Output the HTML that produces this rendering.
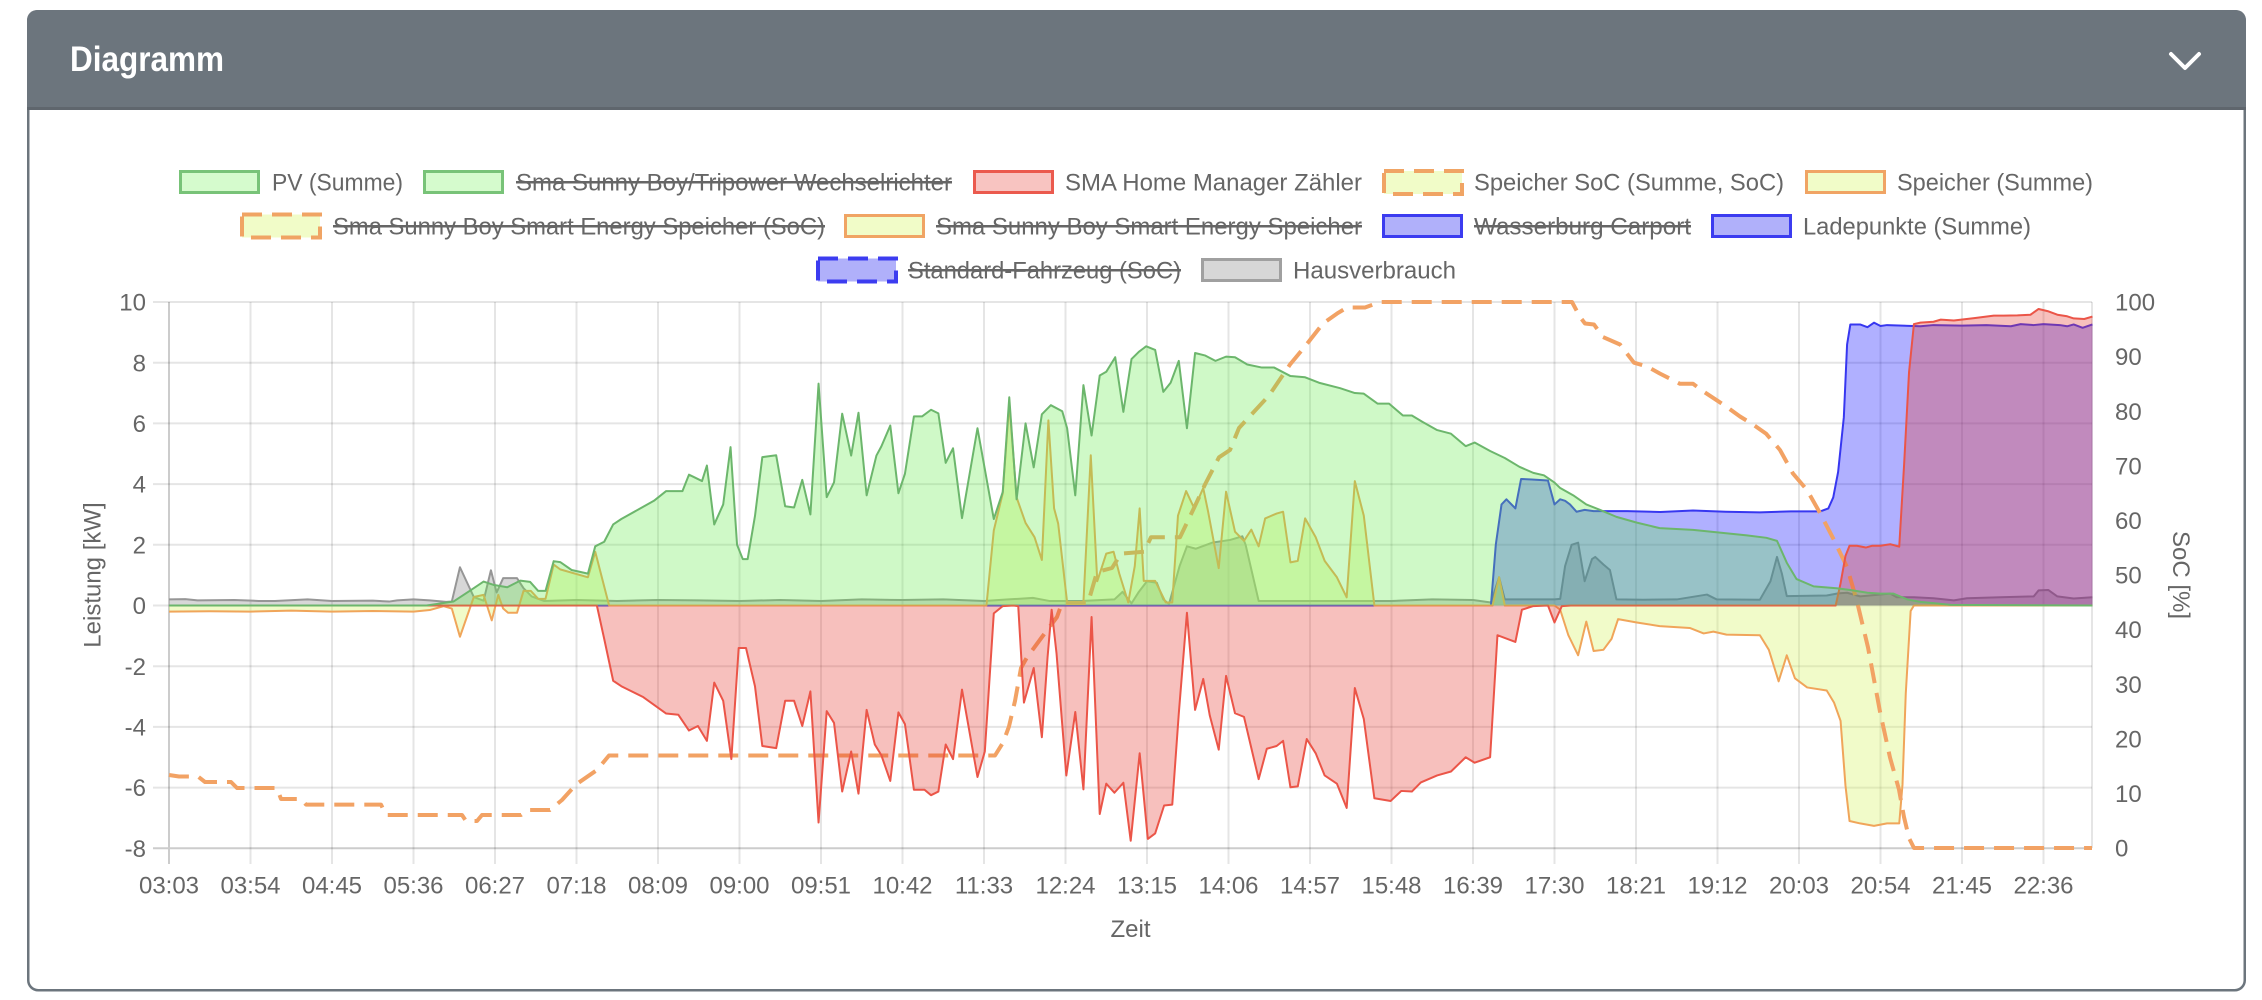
<!DOCTYPE html>
<html><head><meta charset="utf-8"><style>
html,body{margin:0;padding:0;background:#fff;width:2262px;height:1000px;overflow:hidden}
svg{display:block}
text{font-family:"Liberation Sans",Arial,Helvetica,sans-serif}
</style></head><body>
<svg width="2262" height="1000" viewBox="0 0 2262 1000" xmlns="http://www.w3.org/2000/svg">
<rect x="0" y="0" width="2262" height="1000" fill="#fff"/>
<!-- card -->
<rect x="28.25" y="11.25" width="2216.5" height="979" rx="10" ry="10" fill="#fff" stroke="#6c757d" stroke-width="2.5"/>
<path d="M27,108 L27,20 A10,10 0 0 1 37,10 L2236,10 A10,10 0 0 1 2246,20 L2246,108 Z" fill="#6c757d"/>
<rect x="27" y="107" width="2219" height="3" fill="#5f666d"/>
<text x="70" y="71" font-size="35" font-weight="bold" fill="#fff" textLength="154" lengthAdjust="spacingAndGlyphs">Diagramm</text>
<polyline points="2171,54 2185,68 2199,54" fill="none" stroke="#fff" stroke-width="4" stroke-linecap="round" stroke-linejoin="round"/>

<!-- legend -->
<g font-size="24" fill="#666">
<!-- row 1 -->
<rect x="180.5" y="171.5" width="78" height="21" fill="#d5fbcd" stroke="#78c378" stroke-width="3"/>
<text x="272" y="190.5" textLength="131" lengthAdjust="spacingAndGlyphs">PV (Summe)</text>
<rect x="424.5" y="171.5" width="78" height="21" fill="#d5fbcd" stroke="#78c378" stroke-width="3"/>
<text x="516" y="190.5" textLength="436" lengthAdjust="spacingAndGlyphs">Sma Sunny Boy/Tripower Wechselrichter</text>
<rect x="516" y="181" width="436" height="2.5" fill="#666"/>
<rect x="974.5" y="171.5" width="78" height="21" fill="#f8c4c1" stroke="#eb5a4e" stroke-width="3"/>
<text x="1065" y="190.5" textLength="297" lengthAdjust="spacingAndGlyphs">SMA Home Manager Zähler</text>
<rect x="1384" y="171" width="78" height="23" fill="#f1fcc8" stroke="#f0a464" stroke-width="4" stroke-dasharray="20 10"/>
<text x="1474" y="190.5" textLength="310" lengthAdjust="spacingAndGlyphs">Speicher SoC (Summe, SoC)</text>
<rect x="1806.5" y="171.5" width="78" height="21" fill="#f1fcc8" stroke="#f0a464" stroke-width="3"/>
<text x="1897" y="190.5" textLength="196" lengthAdjust="spacingAndGlyphs">Speicher (Summe)</text>
<!-- row 2 -->
<rect x="242" y="214.5" width="78" height="23" fill="#f1fcc8" stroke="#f0a464" stroke-width="4" stroke-dasharray="20 10"/>
<text x="333" y="234.5" textLength="492" lengthAdjust="spacingAndGlyphs">Sma Sunny Boy Smart Energy Speicher (SoC)</text>
<rect x="333" y="225" width="492" height="2.5" fill="#666"/>
<rect x="845.5" y="215.5" width="78" height="21" fill="#f1fcc8" stroke="#f0a464" stroke-width="3"/>
<text x="936" y="234.5" textLength="426" lengthAdjust="spacingAndGlyphs">Sma Sunny Boy Smart Energy Speicher</text>
<rect x="936" y="225" width="426" height="2.5" fill="#666"/>
<rect x="1383.5" y="215.5" width="78" height="21" fill="#b0b0fa" stroke="#3c3cf0" stroke-width="3"/>
<text x="1474" y="234.5" textLength="217" lengthAdjust="spacingAndGlyphs">Wasserburg Carport</text>
<rect x="1474" y="225" width="217" height="2.5" fill="#666"/>
<rect x="1712.5" y="215.5" width="78" height="21" fill="#b0b0fa" stroke="#3c3cf0" stroke-width="3"/>
<text x="1803" y="234.5" textLength="228" lengthAdjust="spacingAndGlyphs">Ladepunkte (Summe)</text>
<!-- row 3 -->
<rect x="818" y="258.5" width="78" height="23" fill="#b0b0fa" stroke="#3c3cf0" stroke-width="4" stroke-dasharray="20 10"/>
<text x="908" y="278.5" textLength="273" lengthAdjust="spacingAndGlyphs">Standard-Fahrzeug (SoC)</text>
<rect x="908" y="269" width="273" height="2.5" fill="#666"/>
<rect x="1202.5" y="259.5" width="78" height="21" fill="#d7d7d7" stroke="#a0a0a0" stroke-width="3"/>
<text x="1293" y="278.5" textLength="163" lengthAdjust="spacingAndGlyphs">Hausverbrauch</text>
</g>

<!-- grid -->
<g stroke="rgba(0,0,0,0.1)" stroke-width="2" fill="none">
<path d="M153,302H2092M153,362.7H2092M153,423.4H2092M153,484.1H2092M153,544.8H2092M153,605.5H2092M153,666.2H2092M153,726.9H2092M153,787.6H2092"/>
<path d="M250.5,302V864M332,302V864M413.5,302V864M495,302V864M576.5,302V864M658,302V864M739.5,302V864M821,302V864M902.5,302V864M984,302V864M1065.5,302V864M1147,302V864M1228.5,302V864M1310,302V864M1391.5,302V864M1473,302V864M1554.5,302V864M1636,302V864M1717.5,302V864M1799,302V864M1880.5,302V864M1962,302V864M2043.5,302V864M2092,302V848"/>
</g>
<g stroke="rgba(0,0,0,0.2)" stroke-width="2" fill="none">
<path d="M169,302V864M153,848.3H2092"/>
</g>

<!-- data -->
<g transform="translate(169 605.5) scale(81.5 -30.35)" stroke-linejoin="round">
<!-- Hausverbrauch -->
<polygon fill="rgba(140,140,140,0.35)" points="0,0 0,0.2 0.2,0.21 0.35,0.17 0.8,0.18 1.1,0.15 1.3,0.15 1.7,0.2 2.0,0.15 2.5,0.16 2.7,0.13 2.8,0.17 3.0,0.2 3.2,0.17 3.4,0.12 3.47,0.13 3.57,1.26 3.74,0.28 3.86,0.16 3.95,1.16 4.02,0.43 4.1,0.9 4.27,0.9 4.35,0.57 4.45,0.3 4.6,0.15 5,0.18 5.5,0.15 6,0.18 6.5,0.17 7,0.15 7.5,0.18 8,0.15 8.5,0.2 9,0.18 9.5,0.2 10,0.15 10.3,0.2 10.6,0.25 10.8,0.15 11.2,0.15 11.6,0.2 11.7,0.45 11.81,0.07 11.9,0.45 12.0,0.8 12.12,0.75 12.2,0.2 12.27,0.05 12.4,1.3 12.49,1.95 12.6,1.87 12.8,2.07 13.02,2.16 13.17,2.28 13.21,2.0 13.37,0.15 14,0.15 15,0.15 15.5,0.2 16,0.18 16.22,0.1 16.32,0.93 16.39,0.2 17.0,0.2 17.07,0.22 17.13,1.3 17.21,2.0 17.29,2.07 17.37,0.8 17.46,1.53 17.5,1.6 17.6,1.35 17.68,1.17 17.76,0.2 18.09,0.19 18.5,0.2 18.87,0.36 18.99,0.2 19.52,0.19 19.65,0.8 19.73,1.6 19.79,1.05 19.85,0.31 20.34,0.33 20.48,0.4 20.59,0.42 20.75,0.3 21.12,0.39 21.2,0.27 21.41,0.27 21.65,0.24 21.9,0.17 22.06,0.24 22.47,0.27 22.88,0.3 22.94,0.5 23.06,0.51 23.17,0.3 23.37,0.23 23.6,0.27 23.6,0"/>
<polyline fill="none" stroke="rgb(150,150,150)" stroke-width="2" vector-effect="non-scaling-stroke" points="0,0.2 0.2,0.21 0.35,0.17 0.8,0.18 1.1,0.15 1.3,0.15 1.7,0.2 2.0,0.15 2.5,0.16 2.7,0.13 2.8,0.17 3.0,0.2 3.2,0.17 3.4,0.12 3.47,0.13 3.57,1.26 3.74,0.28 3.86,0.16 3.95,1.16 4.02,0.43 4.1,0.9 4.27,0.9 4.35,0.57 4.45,0.3 4.6,0.15 5,0.18 5.5,0.15 6,0.18 6.5,0.17 7,0.15 7.5,0.18 8,0.15 8.5,0.2 9,0.18 9.5,0.2 10,0.15 10.3,0.2 10.6,0.25 10.8,0.15 11.2,0.15 11.6,0.2 11.7,0.45 11.81,0.07 11.9,0.45 12.0,0.8 12.12,0.75 12.2,0.2 12.27,0.05 12.4,1.3 12.49,1.95 12.6,1.87 12.8,2.07 13.02,2.16 13.17,2.28 13.21,2.0 13.37,0.15 14,0.15 15,0.15 15.5,0.2 16,0.18 16.22,0.1 16.32,0.93 16.39,0.2 17.0,0.2 17.07,0.22 17.13,1.3 17.21,2.0 17.29,2.07 17.37,0.8 17.46,1.53 17.5,1.6 17.6,1.35 17.68,1.17 17.76,0.2 18.09,0.19 18.5,0.2 18.87,0.36 18.99,0.2 19.52,0.19 19.65,0.8 19.73,1.6 19.79,1.05 19.85,0.31 20.34,0.33 20.48,0.4 20.59,0.42 20.75,0.3 21.12,0.39 21.2,0.27 21.41,0.27 21.65,0.24 21.9,0.17 22.06,0.24 22.47,0.27 22.88,0.3 22.94,0.5 23.06,0.51 23.17,0.3 23.37,0.23 23.6,0.27"/>
<!-- Ladepunkte -->
<polygon fill="rgba(0,0,255,0.31)" points="0,0 16.22,0 16.28,2.01 16.35,3.33 16.41,3.5 16.52,3.2 16.59,4.17 16.72,4.15 16.92,4.12 17.0,3.33 17.07,3.5 17.13,3.45 17.19,3.33 17.27,3.09 17.37,3.15 17.48,3.11 17.89,3.11 18.3,3.08 18.7,3.13 19.1,3.09 19.52,3.07 19.9,3.1 20.26,3.1 20.36,3.2 20.42,3.56 20.48,4.4 20.55,6.2 20.59,8.6 20.63,9.26 20.75,9.26 20.84,9.17 20.92,9.32 21.0,9.21 21.08,9.24 21.49,9.2 21.65,9.24 22.0,9.22 22.3,9.24 22.6,9.2 22.72,9.27 22.88,9.24 23.0,9.27 23.2,9.24 23.29,9.2 23.37,9.26 23.48,9.15 23.6,9.26 23.6,0"/>
<polyline fill="none" stroke="rgb(55,55,240)" stroke-width="2" vector-effect="non-scaling-stroke" points="0,0 16.22,0 16.28,2.01 16.35,3.33 16.41,3.5 16.52,3.2 16.59,4.17 16.72,4.15 16.92,4.12 17.0,3.33 17.07,3.5 17.13,3.45 17.19,3.33 17.27,3.09 17.37,3.15 17.48,3.11 17.89,3.11 18.3,3.08 18.7,3.13 19.1,3.09 19.52,3.07 19.9,3.1 20.26,3.1 20.36,3.2 20.42,3.56 20.48,4.4 20.55,6.2 20.59,8.6 20.63,9.26 20.75,9.26 20.84,9.17 20.92,9.32 21.0,9.21 21.08,9.24 21.49,9.2 21.65,9.24 22.0,9.22 22.3,9.24 22.6,9.2 22.72,9.27 22.88,9.24 23.0,9.27 23.2,9.24 23.29,9.2 23.37,9.26 23.48,9.15 23.6,9.26"/>
<!-- Speicher -->
<polygon fill="rgba(215,245,105,0.36)" points="0,0 0,-0.2 0.5,-0.19 1.0,-0.2 1.5,-0.17 2.0,-0.2 2.5,-0.18 3.0,-0.2 3.2,-0.15 3.37,-0.02 3.47,-0.1 3.57,-1.03 3.74,0.28 3.86,0.35 3.96,-0.49 4.04,0.35 4.1,-0.1 4.16,-0.24 4.27,-0.24 4.35,0.48 4.44,0.48 4.53,0.22 4.62,0.22 4.72,1.35 4.8,1.19 5.14,0.93 5.23,1.77 5.4,0 10.03,0 10.12,2.47 10.23,3.7 10.31,6.68 10.4,3.56 10.51,2.72 10.62,2.25 10.71,1.5 10.79,6.1 10.86,3.2 10.91,2.7 11.02,0.1 11.22,0.1 11.31,4.95 11.39,0.8 11.5,1.71 11.59,1.77 11.66,1.05 11.77,0.1 11.85,1.3 11.91,3.2 11.96,0.81 12.1,0.81 12.23,0.1 12.31,0.1 12.38,2.96 12.48,3.77 12.58,3.2 12.69,3.87 12.75,3.09 12.88,1.23 12.97,3.75 13.08,2.43 13.19,2.13 13.28,2.5 13.37,1.95 13.45,2.87 13.59,3.03 13.67,3.09 13.76,1.42 13.85,1.47 13.94,2.87 14.07,2.25 14.18,1.47 14.33,0.93 14.45,0.27 14.55,4.1 14.66,2.96 14.79,0 16.24,0 16.32,0.93 16.39,0 17.0,0 17.07,-0.14 17.17,-0.98 17.29,-1.64 17.39,-0.53 17.48,-1.5 17.6,-1.46 17.7,-1.1 17.78,-0.45 18.01,-0.56 18.29,-0.68 18.66,-0.74 18.83,-0.92 18.95,-0.86 19.11,-0.96 19.52,-0.98 19.63,-1.46 19.75,-2.5 19.85,-1.64 19.95,-2.4 20.1,-2.7 20.34,-2.8 20.43,-3.2 20.51,-3.8 20.57,-5.93 20.62,-7.1 20.75,-7.18 20.92,-7.26 21.08,-7.18 21.23,-7.18 21.27,-5.9 21.31,-2.9 21.37,-0.18 21.41,0 23.6,0"/>
<polyline fill="none" stroke="rgb(240,165,90)" stroke-width="2" vector-effect="non-scaling-stroke" points="0,-0.2 0.5,-0.19 1.0,-0.2 1.5,-0.17 2.0,-0.2 2.5,-0.18 3.0,-0.2 3.2,-0.15 3.37,-0.02 3.47,-0.1 3.57,-1.03 3.74,0.28 3.86,0.35 3.96,-0.49 4.04,0.35 4.1,-0.1 4.16,-0.24 4.27,-0.24 4.35,0.48 4.44,0.48 4.53,0.22 4.62,0.22 4.72,1.35 4.8,1.19 5.14,0.93 5.23,1.77 5.4,0 10.03,0 10.12,2.47 10.23,3.7 10.31,6.68 10.4,3.56 10.51,2.72 10.62,2.25 10.71,1.5 10.79,6.1 10.86,3.2 10.91,2.7 11.02,0.1 11.22,0.1 11.31,4.95 11.39,0.8 11.5,1.71 11.59,1.77 11.66,1.05 11.77,0.1 11.85,1.3 11.91,3.2 11.96,0.81 12.1,0.81 12.23,0.1 12.31,0.1 12.38,2.96 12.48,3.77 12.58,3.2 12.69,3.87 12.75,3.09 12.88,1.23 12.97,3.75 13.08,2.43 13.19,2.13 13.28,2.5 13.37,1.95 13.45,2.87 13.59,3.03 13.67,3.09 13.76,1.42 13.85,1.47 13.94,2.87 14.07,2.25 14.18,1.47 14.33,0.93 14.45,0.27 14.55,4.1 14.66,2.96 14.79,0 16.24,0 16.32,0.93 16.39,0 17.0,0 17.07,-0.14 17.17,-0.98 17.29,-1.64 17.39,-0.53 17.48,-1.5 17.6,-1.46 17.7,-1.1 17.78,-0.45 18.01,-0.56 18.29,-0.68 18.66,-0.74 18.83,-0.92 18.95,-0.86 19.11,-0.96 19.52,-0.98 19.63,-1.46 19.75,-2.5 19.85,-1.64 19.95,-2.4 20.1,-2.7 20.34,-2.8 20.43,-3.2 20.51,-3.8 20.57,-5.93 20.62,-7.1 20.75,-7.18 20.92,-7.26 21.08,-7.18 21.23,-7.18 21.27,-5.9 21.31,-2.9 21.37,-0.18 21.41,0 23.6,0"/>
</g>
<!-- Speicher SoC dashed (pixel coords) -->
<polyline fill="none" stroke="rgb(242,162,100)" stroke-width="4" stroke-dasharray="20 10" stroke-linejoin="round" points="169,775 179,776.5 198,776.5 205,782 231,782 237,788 277,788 281,799 301,799 306,804.6 381,804.6 386,815 462,815 466,821 477,821 482,815 521,815 528,810 550,810 562,800 576,784.5 597,770 609,755.5 995,755.5 1003,742.7 1009,726.4 1015,701 1021,668 1027,657.3 1042,637 1051,625 1057,617 1062,603 1088,603 1097,572 1112,568 1121,553.6 1144,551.8 1151,537.3 1180,537.3 1194,508 1205,484.5 1219,457.3 1230,450 1239,428 1269,395.5 1290,364.5 1305,346.4 1323,323.5 1337,313.6 1347,307.5 1365,307.5 1380,302 1572,302 1580,317 1585,323.5 1594,324.5 1603,337 1620,344.5 1634,362.7 1647,366.4 1660,373.6 1680,383.8 1693,383.8 1704,391.8 1726,406.4 1740,416.5 1753,424.5 1766,433.6 1780,450 1793,473.6 1807,490 1820,513 1834,540 1847,567 1857,601.5 1868,647.4 1880,711.6 1890,757.5 1899,789.6 1904,817 1909,838 1914,848 2092,848"/>
<g transform="translate(169 605.5) scale(81.5 -30.35)" stroke-linejoin="round">
<!-- SMA Home Manager -->
<polygon fill="rgba(230,60,50,0.32)" points="0,0 5.25,0 5.34,-1.1 5.45,-2.48 5.55,-2.66 5.64,-2.78 5.82,-3.02 6.1,-3.56 6.25,-3.6 6.38,-4.12 6.49,-3.97 6.6,-4.46 6.69,-2.54 6.8,-3.14 6.9,-5.06 6.99,-1.4 7.08,-1.4 7.19,-2.66 7.28,-4.63 7.45,-4.7 7.56,-3.14 7.67,-3.14 7.77,-3.97 7.87,-2.83 7.97,-7.15 8.07,-3.48 8.16,-3.87 8.26,-6.13 8.37,-4.81 8.46,-6.2 8.56,-3.44 8.66,-4.58 8.74,-4.93 8.85,-5.78 8.95,-3.52 9.03,-3.91 9.14,-6.07 9.27,-6.07 9.35,-6.25 9.44,-6.13 9.53,-4.58 9.62,-5.06 9.73,-2.77 9.92,-5.65 10.01,-4.81 10.12,-0.26 10.23,-0.02 10.36,0 10.42,-0.02 10.49,-3.2 10.61,-2.06 10.71,-4.34 10.78,-1.7 10.83,-0.14 10.89,-1.58 11.01,-5.6 11.12,-3.51 11.22,-6.06 11.32,-0.38 11.42,-6.87 11.5,-5.87 11.6,-6.17 11.71,-5.84 11.8,-7.75 11.91,-4.87 12.01,-7.69 12.1,-7.51 12.21,-6.59 12.31,-6.56 12.39,-3.56 12.49,-0.24 12.59,-3.44 12.69,-2.42 12.77,-3.62 12.88,-4.75 12.97,-2.32 13.08,-3.55 13.19,-3.67 13.37,-5.72 13.47,-4.72 13.59,-4.63 13.67,-4.46 13.76,-5.99 13.85,-5.96 13.96,-4.4 14.07,-4.87 14.18,-5.6 14.33,-5.87 14.45,-6.67 14.55,-2.72 14.66,-3.74 14.79,-6.35 14.99,-6.44 15.12,-6.11 15.25,-6.13 15.36,-5.83 15.56,-5.6 15.73,-5.47 15.91,-5.0 16.02,-5.18 16.21,-5.0 16.3,-0.98 16.52,-1.2 16.6,-0.14 16.74,-0.02 16.92,0 17.0,-0.56 17.09,-0.02 17.2,0 20.45,0 20.51,0.73 20.57,1.63 20.62,1.97 20.71,1.97 20.82,1.91 20.9,1.97 21.0,1.97 21.12,2.02 21.23,1.94 21.29,4.66 21.35,7.68 21.41,9.27 21.49,9.32 21.65,9.35 21.74,9.42 21.9,9.39 22.15,9.47 22.39,9.55 22.51,9.55 22.68,9.56 22.84,9.58 22.94,9.77 23.05,9.7 23.17,9.58 23.29,9.53 23.37,9.46 23.5,9.44 23.6,9.52 23.6,0"/>
<polyline fill="none" stroke="rgb(235,85,72)" stroke-width="2" vector-effect="non-scaling-stroke" points="0,0 5.25,0 5.34,-1.1 5.45,-2.48 5.55,-2.66 5.64,-2.78 5.82,-3.02 6.1,-3.56 6.25,-3.6 6.38,-4.12 6.49,-3.97 6.6,-4.46 6.69,-2.54 6.8,-3.14 6.9,-5.06 6.99,-1.4 7.08,-1.4 7.19,-2.66 7.28,-4.63 7.45,-4.7 7.56,-3.14 7.67,-3.14 7.77,-3.97 7.87,-2.83 7.97,-7.15 8.07,-3.48 8.16,-3.87 8.26,-6.13 8.37,-4.81 8.46,-6.2 8.56,-3.44 8.66,-4.58 8.74,-4.93 8.85,-5.78 8.95,-3.52 9.03,-3.91 9.14,-6.07 9.27,-6.07 9.35,-6.25 9.44,-6.13 9.53,-4.58 9.62,-5.06 9.73,-2.77 9.92,-5.65 10.01,-4.81 10.12,-0.26 10.23,-0.02 10.36,0 10.42,-0.02 10.49,-3.2 10.61,-2.06 10.71,-4.34 10.78,-1.7 10.83,-0.14 10.89,-1.58 11.01,-5.6 11.12,-3.51 11.22,-6.06 11.32,-0.38 11.42,-6.87 11.5,-5.87 11.6,-6.17 11.71,-5.84 11.8,-7.75 11.91,-4.87 12.01,-7.69 12.1,-7.51 12.21,-6.59 12.31,-6.56 12.39,-3.56 12.49,-0.24 12.59,-3.44 12.69,-2.42 12.77,-3.62 12.88,-4.75 12.97,-2.32 13.08,-3.55 13.19,-3.67 13.37,-5.72 13.47,-4.72 13.59,-4.63 13.67,-4.46 13.76,-5.99 13.85,-5.96 13.96,-4.4 14.07,-4.87 14.18,-5.6 14.33,-5.87 14.45,-6.67 14.55,-2.72 14.66,-3.74 14.79,-6.35 14.99,-6.44 15.12,-6.11 15.25,-6.13 15.36,-5.83 15.56,-5.6 15.73,-5.47 15.91,-5.0 16.02,-5.18 16.21,-5.0 16.3,-0.98 16.52,-1.2 16.6,-0.14 16.74,-0.02 16.92,0 17.0,-0.56 17.09,-0.02 17.2,0 20.45,0 20.51,0.73 20.57,1.63 20.62,1.97 20.71,1.97 20.82,1.91 20.9,1.97 21.0,1.97 21.12,2.02 21.23,1.94 21.29,4.66 21.35,7.68 21.41,9.27 21.49,9.32 21.65,9.35 21.74,9.42 21.9,9.39 22.15,9.47 22.39,9.55 22.51,9.55 22.68,9.56 22.84,9.58 22.94,9.77 23.05,9.7 23.17,9.58 23.29,9.53 23.37,9.46 23.5,9.44 23.6,9.52"/>
<!-- PV -->
<polygon fill="rgba(100,235,75,0.31)" points="0,0 3.16,0 3.49,0.13 3.7,0.5 3.86,0.79 3.98,0.68 4.15,0.6 4.31,0.82 4.43,0.78 4.53,0.48 4.62,0.48 4.72,1.46 4.8,1.43 4.94,1.17 5.14,1.05 5.23,1.95 5.34,2.1 5.45,2.67 5.55,2.85 5.95,3.45 6.1,3.77 6.3,3.77 6.38,4.31 6.45,4.22 6.54,4.1 6.6,4.61 6.69,2.67 6.8,3.33 6.89,5.22 6.97,2.0 7.04,1.53 7.1,1.53 7.19,2.95 7.28,4.89 7.45,4.95 7.56,3.27 7.67,3.23 7.77,4.14 7.87,3.0 7.97,7.31 8.07,3.57 8.16,4.06 8.26,6.32 8.37,4.94 8.46,6.35 8.56,3.63 8.68,4.94 8.74,5.24 8.85,5.93 8.95,3.7 9.03,4.34 9.14,6.23 9.24,6.23 9.35,6.45 9.44,6.33 9.53,4.7 9.62,5.18 9.73,2.88 9.92,5.84 10.12,2.85 10.23,3.74 10.31,6.86 10.4,3.5 10.51,6.0 10.61,4.55 10.71,6.3 10.82,6.6 10.96,6.4 11.02,5.84 11.12,3.63 11.22,7.26 11.32,5.6 11.42,7.58 11.5,7.7 11.61,8.18 11.71,6.38 11.81,8.12 11.9,8.36 11.99,8.54 12.1,8.42 12.2,7.04 12.29,7.34 12.39,8.06 12.49,5.84 12.59,8.32 12.71,8.24 12.84,8.06 12.97,8.2 13.08,8.18 13.23,7.94 13.41,7.84 13.56,7.84 13.76,7.56 13.94,7.52 14.11,7.34 14.37,7.16 14.55,7.0 14.66,6.98 14.83,6.65 14.97,6.65 15.14,6.26 15.25,6.26 15.38,6.05 15.56,5.78 15.73,5.66 15.91,5.25 16.02,5.37 16.21,5.09 16.39,4.86 16.57,4.57 16.74,4.37 16.87,4.29 17.0,4.05 17.07,3.87 17.23,3.63 17.39,3.33 17.56,3.15 17.76,2.92 18.01,2.73 18.29,2.55 18.7,2.49 19.03,2.4 19.36,2.31 19.6,2.23 19.73,2.13 19.85,1.41 19.97,0.87 20.18,0.63 20.46,0.57 20.63,0.51 20.84,0.42 21.0,0.39 21.16,0.39 21.24,0.3 21.33,0.2 21.49,0.12 21.65,0.08 21.86,0.02 23.6,0"/>
<polyline fill="none" stroke="rgb(108,182,108)" stroke-width="2" vector-effect="non-scaling-stroke" points="0,0 3.16,0 3.49,0.13 3.7,0.5 3.86,0.79 3.98,0.68 4.15,0.6 4.31,0.82 4.43,0.78 4.53,0.48 4.62,0.48 4.72,1.46 4.8,1.43 4.94,1.17 5.14,1.05 5.23,1.95 5.34,2.1 5.45,2.67 5.55,2.85 5.95,3.45 6.1,3.77 6.3,3.77 6.38,4.31 6.45,4.22 6.54,4.1 6.6,4.61 6.69,2.67 6.8,3.33 6.89,5.22 6.97,2.0 7.04,1.53 7.1,1.53 7.19,2.95 7.28,4.89 7.45,4.95 7.56,3.27 7.67,3.23 7.77,4.14 7.87,3.0 7.97,7.31 8.07,3.57 8.16,4.06 8.26,6.32 8.37,4.94 8.46,6.35 8.56,3.63 8.68,4.94 8.74,5.24 8.85,5.93 8.95,3.7 9.03,4.34 9.14,6.23 9.24,6.23 9.35,6.45 9.44,6.33 9.53,4.7 9.62,5.18 9.73,2.88 9.92,5.84 10.12,2.85 10.23,3.74 10.31,6.86 10.4,3.5 10.51,6.0 10.61,4.55 10.71,6.3 10.82,6.6 10.96,6.4 11.02,5.84 11.12,3.63 11.22,7.26 11.32,5.6 11.42,7.58 11.5,7.7 11.61,8.18 11.71,6.38 11.81,8.12 11.9,8.36 11.99,8.54 12.1,8.42 12.2,7.04 12.29,7.34 12.39,8.06 12.49,5.84 12.59,8.32 12.71,8.24 12.84,8.06 12.97,8.2 13.08,8.18 13.23,7.94 13.41,7.84 13.56,7.84 13.76,7.56 13.94,7.52 14.11,7.34 14.37,7.16 14.55,7.0 14.66,6.98 14.83,6.65 14.97,6.65 15.14,6.26 15.25,6.26 15.38,6.05 15.56,5.78 15.73,5.66 15.91,5.25 16.02,5.37 16.21,5.09 16.39,4.86 16.57,4.57 16.74,4.37 16.87,4.29 17.0,4.05 17.07,3.87 17.23,3.63 17.39,3.33 17.56,3.15 17.76,2.92 18.01,2.73 18.29,2.55 18.7,2.49 19.03,2.4 19.36,2.31 19.6,2.23 19.73,2.13 19.85,1.41 19.97,0.87 20.18,0.63 20.46,0.57 20.63,0.51 20.84,0.42 21.0,0.39 21.16,0.39 21.24,0.3 21.33,0.2 21.49,0.12 21.65,0.08 21.86,0.02 23.6,0"/>
</g>

<!-- axis labels -->
<g font-size="24" fill="#666">
<g text-anchor="end">
<text x="146" y="310.6">10</text>
<text x="146" y="371.3">8</text>
<text x="146" y="432">6</text>
<text x="146" y="492.7">4</text>
<text x="146" y="553.4">2</text>
<text x="146" y="614.1">0</text>
<text x="146" y="674.8">-2</text>
<text x="146" y="735.5">-4</text>
<text x="146" y="796.2">-6</text>
<text x="146" y="856.9">-8</text>
</g>
<g text-anchor="start">
<text x="2115" y="310.6">100</text>
<text x="2115" y="365.2">90</text>
<text x="2115" y="419.8">80</text>
<text x="2115" y="474.4">70</text>
<text x="2115" y="529">60</text>
<text x="2115" y="583.6">50</text>
<text x="2115" y="638.2">40</text>
<text x="2115" y="692.8">30</text>
<text x="2115" y="747.4">20</text>
<text x="2115" y="802">10</text>
<text x="2115" y="856.6">0</text>
</g>
<g text-anchor="middle">
<text x="169" y="893.6">03:03</text>
<text x="250.5" y="893.6">03:54</text>
<text x="332" y="893.6">04:45</text>
<text x="413.5" y="893.6">05:36</text>
<text x="495" y="893.6">06:27</text>
<text x="576.5" y="893.6">07:18</text>
<text x="658" y="893.6">08:09</text>
<text x="739.5" y="893.6">09:00</text>
<text x="821" y="893.6">09:51</text>
<text x="902.5" y="893.6">10:42</text>
<text x="984" y="893.6">11:33</text>
<text x="1065.5" y="893.6">12:24</text>
<text x="1147" y="893.6">13:15</text>
<text x="1228.5" y="893.6">14:06</text>
<text x="1310" y="893.6">14:57</text>
<text x="1391.5" y="893.6">15:48</text>
<text x="1473" y="893.6">16:39</text>
<text x="1554.5" y="893.6">17:30</text>
<text x="1636" y="893.6">18:21</text>
<text x="1717.5" y="893.6">19:12</text>
<text x="1799" y="893.6">20:03</text>
<text x="1880.5" y="893.6">20:54</text>
<text x="1962" y="893.6">21:45</text>
<text x="2043.5" y="893.6">22:36</text>
<text x="1130.5" y="937">Zeit</text>
<text transform="translate(100.5 575) rotate(-90)" x="0" y="0">Leistung [kW]</text>
<text transform="translate(2173 575) rotate(90)" x="0" y="0">SoC [%]</text>
</g>
</g>
</svg>
</body></html>
